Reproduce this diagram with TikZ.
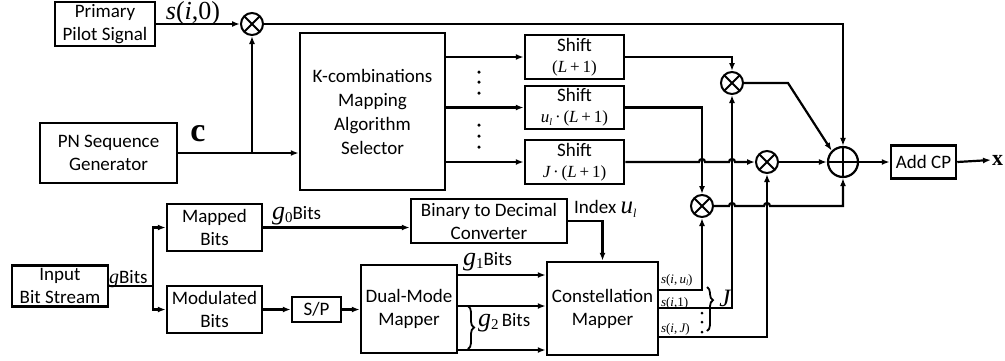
\documentclass[tikz,border=0pt]{standalone}
\usepackage{fontspec}
\setmainfont{Carlito}
\newfontfamily\tnr{Liberation Serif}
\usetikzlibrary{arrows.meta,decorations.pathreplacing,calc}
\newcommand\mi[1]{{\tnr\itshape #1}}
\newcommand\mr[1]{{\tnr #1}}
\newcommand\sbs[1]{\raisebox{-3pt}{\fontsize{11}{11}\selectfont #1}}
\begin{document}
\begin{tikzpicture}[x=1pt,y=-1pt, line width=2.2pt,
  >={Latex[length=8pt,width=6pt]},
  box/.style={draw, line width=2.5pt, align=center, inner sep=0pt,
    font=\fontsize{19}{23}\selectfont},
  mult/.style={circle, draw, line width=2pt, minimum size=22pt, inner sep=0pt,
    path picture={\draw[line width=1.8pt] (path picture bounding box.north west)--(path picture bounding box.south east)
      (path picture bounding box.north east)--(path picture bounding box.south west);}},
  summ/.style={circle, draw, line width=2.2pt, minimum size=30pt, inner sep=0pt,
    path picture={\draw[line width=2pt] (path picture bounding box.north)--(path picture bounding box.south)
      (path picture bounding box.east)--(path picture bounding box.west);}},
  lbl/.style={inner sep=0pt, font=\fontsize{19}{23}\selectfont},
  dotm/.style={circle, fill, inner sep=0pt, minimum size=3.5pt}
]
\useasboundingbox (0,0) rectangle (1005,360);

% boxes
\node[box, minimum width=100pt, minimum height=44pt] (pp) at (105,24) {Primary\\Pilot Signal};
\node[mult] (ot0) at (252,24) {};
\node[box, minimum width=137pt, minimum height=60pt] (pn) at (108.5,153) {PN Sequence\\Generator};
\node[box, minimum width=145pt, minimum height=157pt, font=\fontsize{19}{24}\selectfont] (kc) at (372.5,111.5) {K-combinations\\Mapping\\Algorithm\\Selector};
\node[box, minimum width=99pt, minimum height=44pt] (sh1) at (574.5,57) {Shift\\[-2pt]{\fontsize{17}{17}\selectfont\mr{(}\mi{L}\mr{\,+\,1)}}};
\node[box, minimum width=99pt, minimum height=43pt] (sh2) at (574.5,107.5) {Shift\\[-2pt]{\fontsize{17}{17}\selectfont\mi{u}\raisebox{-3pt}{\fontsize{10}{10}\selectfont\mi{l}}\mr{\,·\,(}\mi{L}\mr{\,+\,1)}}};
\node[box, minimum width=99pt, minimum height=44pt] (sh3) at (574.5,162) {Shift\\[-2pt]{\fontsize{17}{17}\selectfont\mi{J}\mr{\,·\,(}\mi{L}\mr{\,+\,1)}}};
\node[mult] (ot1) at (732,83) {};
\node[mult] (ot2) at (767,162) {};
\node[mult] (ot3) at (702,206) {};
\node[summ] (sum) at (843,162) {};
\node[box, minimum width=65pt, minimum height=33pt] (acp) at (923.5,162) {Add CP};
\node[inner sep=0pt, font=\fontsize{22}{22}\selectfont\tnr\bfseries, anchor=west] (xl) at (991,160) {x};

\node[box, minimum width=96pt, minimum height=41pt] (ibs) at (60,286) {Input\\Bit Stream};
\node[box, minimum width=95pt, minimum height=47pt] (mb) at (214.5,227.5) {Mapped\\Bits};
\node[box, minimum width=95pt, minimum height=47pt] (modb) at (214.5,309.5) {Modulated\\Bits};
\node[box, minimum width=156pt, minimum height=44pt] (bdc) at (489,221) {Binary to Decimal\\Converter};
\node[box, minimum width=49pt, minimum height=25pt] (sp) at (316.5,309.5) {S/P};
\node[box, minimum width=96pt, minimum height=88pt] (dmm) at (409,309) {Dual-Mode\\Mapper};
\node[box, minimum width=111pt, minimum height=93pt] (cm) at (602.5,308.5) {Constellation\\Mapper};

% labels
\node[inner sep=0pt, font=\fontsize{26}{26}\selectfont] (ls0) at (193,13) {\mi{s}\mr{(}\mi{i}\mr{,0)}};
\node[inner sep=0pt, font=\fontsize{34}{34}\selectfont\tnr\bfseries] (lc) at (198,134) {c};
\node[lbl, anchor=west] (lg) at (108,279) {{\fontsize{20}{20}\selectfont\mi{g}}Bits};
\node[lbl, anchor=west] (lg0) at (271,216) {{\fontsize{26}{26}\selectfont\mi{g}}\raisebox{-3pt}{\fontsize{15}{15}\selectfont\mr{0}}Bits};
\node[lbl, anchor=west] (lidx) at (573,209) {Index {\fontsize{25}{25}\selectfont\mi{u}}\raisebox{-4pt}{\fontsize{12}{12}\selectfont\mi{l}}};
\node[lbl, anchor=west] (lg1) at (462,262) {{\fontsize{26}{26}\selectfont\mi{g}}\raisebox{-3pt}{\fontsize{15}{15}\selectfont\mr{1}}Bits};
\node[lbl, anchor=west] (lg2) at (477,323) {{\fontsize{26}{26}\selectfont\mi{g}}\raisebox{-3pt}{\fontsize{15}{15}\selectfont\mr{2}}\,Bits};
\node[inner sep=0pt, anchor=west, font=\fontsize{13}{13}\selectfont] (lsu) at (660,280) {\mi{s}\mr{(}\mi{i}\mr{,\,}\mi{u}\raisebox{-2pt}{\fontsize{8}{8}\selectfont\mi{l}}\mr{)}};
\node[inner sep=0pt, anchor=west, font=\fontsize{13}{13}\selectfont] (ls1) at (660,303) {\mi{s}\mr{(}\mi{i}\mr{,1)}};
\node[inner sep=0pt, anchor=west, font=\fontsize{13}{13}\selectfont] (lsj) at (660,329) {\mi{s}\mr{(}\mi{i}\mr{,\,}\mi{J}\mr{)}};
\node[inner sep=0pt, font=\fontsize{25}{25}\selectfont] (lJ) at (725,298) {\mi{J}};

% dots
\foreach \yy in {72,82,93,125,136,147} \node[dotm] at (479,\yy) {};
\foreach \yy in {313,322,332} \node[dotm, minimum size=3pt] at (702,\yy) {};

% coordinates
\coordinate (jn) at (153,286);
\coordinate (c1) at (788,83);
\coordinate (ya) at (0,275);
\coordinate (yb) at (0,306);
\coordinate (yc) at (0,350);
\coordinate (yu) at (0,290);
\coordinate (y1) at (0,308);
\coordinate (yj) at (0,337);

% top connectors
\draw[->] (pp.east) -- (ot0.west);
\draw[->] (ot0.east) -- (ot0.east -| sum.north) -- (sum.north);
\draw[->] (pn.east) -- (pn.east -| kc.west);
\draw[->] (ot0.south |- pn.east) -- (ot0.south);
\draw[->] (kc.east |- sh1.west) -- (sh1.west);
\draw[->] (kc.east |- sh2.west) -- (sh2.west);
\draw[->] (kc.east |- sh3.west) -- (sh3.west);
\draw[->] (sh1.east) -- (sh1.east -| ot1.north) -- (ot1.north);
\draw[->] (sh2.east) -- (sh2.east -| ot3.north) -- (ot3.north);
\draw[->] (sh3.east) -- (699,162) arc[start angle=180,end angle=360,radius=3] -- (729,162) arc[start angle=180,end angle=360,radius=3] -- (ot2.west);
\draw[->] (ot1.east) -- (c1) -- (sum.135);
\draw[->] (ot2.east) -- (sum.west);
\draw[->] (ot3.east) -- (729,206) arc[start angle=180,end angle=360,radius=3] -- (764,206) arc[start angle=180,end angle=360,radius=3] -- (ot3.east -| sum.south) -- (sum.south);
\draw[->] (sum.east) -- (acp.west);
\draw[->] (acp.east) -- (xl.west);

% bottom connectors
\draw (ibs.east) -- (jn);
\draw[->] (jn) |- (mb.west);
\draw[->] (jn) |- (modb.west);
\draw[->] (mb.east) -- (mb.east -| bdc.west);
\draw[->] (bdc.east) -| (cm.north);
\draw[->] (modb.east) -- (sp.west);
\draw[->] (sp.east) -- (sp.east -| dmm.west);
\draw[->] (dmm.east |- ya) -- (cm.west |- ya);
\draw[->] (dmm.east |- yb) -- (cm.west |- yb);
\draw[->] (dmm.east |- yc) -- (cm.west |- yc);
\draw[->] (cm.east |- yu) -| (ot3.south);
\draw[->] (cm.east |- y1) -| (ot1.south);
\draw[->] (cm.east |- yj) -| (ot2.south);

% braces
\draw[decorate, decoration={brace, amplitude=6pt}, line width=1.8pt] (468,306) -- (468,349);
\draw[decorate, decoration={brace, amplitude=6pt, aspect=0.3}, line width=1.8pt] (707,287) -- (707,331);
\end{tikzpicture}
\end{document}
